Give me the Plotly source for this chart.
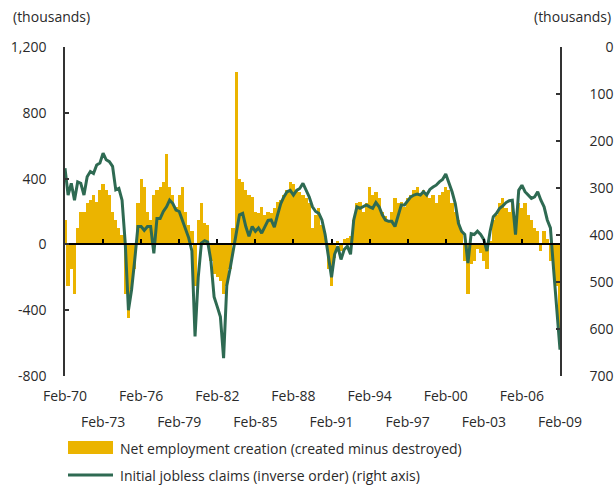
import pandas as pd
import plotly.graph_objects as go

# Quarterly observations, Feb-1970 .. Feb-2009 (157 points)
start_date = "1970-02-01"
n_obs = 157

net_employment = [
    150, -250, -150, -300, 100, 200, 200, 250, 270, 300,
    260, 330, 370, 330, 300, 200, 150, 100, 60, -300,
    -450, -280, -150, 250, 400, 350, 200, 150, 300, 330,
    350, 380, 550, 350, 300, 230, 300, 350, 200, 120,
    80, -250, 150, 250, 130, 120, -100, -180, -200, -220,
    -300, -250, -150, 100, 1050, 400, 380, 330, 300, 290,
    200, 190, 230, 180, 200, 190, 220, 260, 270, 300,
    330, 380, 370, 330, 320, 300, 280, 250, 100, 180,
    220, 120, 40, -150, -250, -80, 20, -40, 30, 40,
    50, 150, 250, 260, 200, 250, 350, 300, 320, 280,
    200, 170, 150, 200, 280, 250, 260, 230, 280, 300,
    330, 350, 300, 330, 300, 280, 300, 250, 300, 320,
    350, 330, 250, 200, 150, 80, -100, -300, -120, -100,
    -30, -50, -100, -150, 20, 150, 180, 250, 280, 220,
    200, 250, 150, 250, 220, 250, 180, 150, 100, 80,
    -40, 80, 30, -100, -150, -250, -600,
]

jobless_claims = [
    258, 315, 290, 326, 287, 290, 315, 276, 265, 269,
    251, 247, 226, 240, 244, 254, 304, 301, 326, 418,
    560, 517, 453, 382, 382, 390, 382, 382, 439, 365,
    365, 350, 340, 326, 333, 347, 350, 368, 389, 406,
    434, 616, 490, 417, 412, 415, 455, 532, 553, 574,
    662, 508, 473, 433, 390, 357, 354, 382, 403, 382,
    392, 385, 396, 382, 369, 368, 383, 357, 333, 319,
    308, 305, 315, 305, 301, 290, 305, 319, 340, 350,
    354, 368, 399, 443, 490, 441, 424, 452, 431, 424,
    441, 368, 340, 343, 340, 336, 340, 343, 331, 340,
    357, 368, 371, 371, 382, 357, 336, 336, 326, 319,
    315, 313, 315, 308, 315, 303, 298, 294, 287, 282,
    270, 287, 308, 333, 375, 392, 399, 460, 397, 399,
    392, 399, 410, 434, 392, 361, 354, 343, 338, 331,
    327, 326, 399, 305, 294, 308, 315, 322, 319, 308,
    326, 340, 368, 385, 473, 567, 644,
]

tick_years_row1 = [1970, 1976, 1982, 1988, 1994, 2000, 2006]
tick_years_row2 = [1973, 1979, 1985, 1991, 1997, 2003, 2009]
left_ticks = [-800, -400, 0, 400, 800, 1200]
left_ticktext = ["-800", "-400", "0", "400", "800", "1,200"]
right_ticks = [0, 100, 200, 300, 400, 500, 600, 700]

series_names = [
    "Net employment creation (created minus destroyed)",
    "Initial jobless claims (inverse order) (right axis)",
]

dates = pd.date_range(start_date, periods=n_obs, freq="3MS")

def feb(y):
    return f"{y}-02-01"

def lab(y):
    return f"Feb-{y % 100:02d}"

YELLOW = "#EBB400"
GREEN = "#2E6A52"
AXIS = "#333333"
TEXT = "#2a2a2a"
FONT = "Open Sans"
FS = 14

W, H = 614, 485
L, R, T, B = 65, 54, 47, 109
pw, ph = W - L - R, H - T - B

fig = go.Figure()
fig.add_trace(go.Bar(
    x=dates, y=net_employment, name=series_names[0],
    marker=dict(color=YELLOW, line=dict(width=0)),
    width=92 * 86400000, showlegend=False,
))
fig.add_trace(go.Scatter(
    x=dates, y=jobless_claims, name=series_names[1], yaxis="y2",
    mode="lines", line=dict(color=GREEN, width=3), showlegend=False,
))
# carriers for the auxiliary x axes (zero line ticks, second label row)
fig.add_trace(go.Scatter(x=[dates[0]], y=[None], xaxis="x2", showlegend=False, hoverinfo="skip"))
fig.add_trace(go.Scatter(x=[dates[0]], y=[None], xaxis="x3", showlegend=False, hoverinfo="skip"))

xr = [feb(1970), feb(2009)]
all_ticks = sorted(tick_years_row1 + tick_years_row2)

fig.update_layout(
    width=W, height=H,
    margin=dict(l=L, r=R, t=T, b=B, autoexpand=False),
    paper_bgcolor="white", plot_bgcolor="white",
    font=dict(family=FONT, size=FS, color=TEXT),
    bargap=0,
    xaxis=dict(
        range=xr, showgrid=False, zeroline=False, showline=False, ticks="",
        tickmode="array", tickvals=[feb(y) for y in tick_years_row1],
        ticktext=[lab(y) for y in tick_years_row1],
        ticklabelstandoff=10,
    ),
    xaxis2=dict(
        range=xr, overlaying="x", anchor="free", position=800 / 2000,
        showgrid=False, zeroline=False, showline=True, linecolor="black", linewidth=1.5,
        ticks="inside", ticklen=5, tickwidth=1.5, tickcolor="black",
        tickmode="array", tickvals=[feb(y) for y in all_ticks], showticklabels=False,
    ),
    xaxis3=dict(
        range=xr, overlaying="x", anchor="y", side="bottom",
        showgrid=False, zeroline=False, showline=False, ticks="",
        tickmode="array", tickvals=[feb(y) for y in tick_years_row2],
        ticktext=[lab(y) for y in tick_years_row2],
        ticklabelstandoff=36,
    ),
    yaxis=dict(
        range=[-800, 1200], showgrid=False, zeroline=False,
        showline=True, linecolor=AXIS, linewidth=1.5,
        ticks="inside", ticklen=4, tickcolor=AXIS, tickwidth=1.5,
        tickmode="array", tickvals=left_ticks, ticktext=left_ticktext,
        ticklabelstandoff=14,
    ),
    yaxis2=dict(
        range=[700, 0], overlaying="y", side="right", anchor="x",
        showgrid=False, zeroline=False,
        showline=True, linecolor=AXIS, linewidth=1.5,
        ticks="inside", ticklen=4, tickcolor=AXIS, tickwidth=1.5,
        tickmode="array", tickvals=right_ticks,
        ticktext=[str(v).rjust(3, "\u2007") for v in right_ticks],
        ticklabelstandoff=25,
    ),
)

def px_x(p):
    return (p - L) / pw

def px_y(p):
    return (H - B - p) / ph

annotations = [
    dict(text="(thousands)", x=px_x(11), y=px_y(17), xanchor="left", yanchor="middle"),
    dict(text="(thousands)", x=px_x(613), y=px_y(17), xanchor="right", yanchor="middle"),
    dict(text=series_names[0], x=px_x(118), y=px_y(449), xanchor="left", yanchor="middle"),
    dict(text=series_names[1], x=px_x(118), y=px_y(475), xanchor="left", yanchor="middle"),
]
for a in annotations:
    a.update(xref="paper", yref="paper", showarrow=False, font=dict(family=FONT, size=FS, color=TEXT))
fig.update_layout(annotations=annotations)

fig.update_layout(shapes=[
    dict(type="rect", xref="paper", yref="paper",
         x0=px_x(68), x1=px_x(113), y0=px_y(441), y1=px_y(454),
         fillcolor=YELLOW, line=dict(width=0)),
    dict(type="line", xref="paper", yref="paper",
         x0=px_x(68), x1=px_x(113), y0=px_y(475), y1=px_y(475),
         line=dict(color=GREEN, width=3)),
])

fig.write_html(
    "out.html",
    config={"displayModeBar": False},
    post_script="document.body.style.margin='0';document.body.style.overflow='hidden';",
)
